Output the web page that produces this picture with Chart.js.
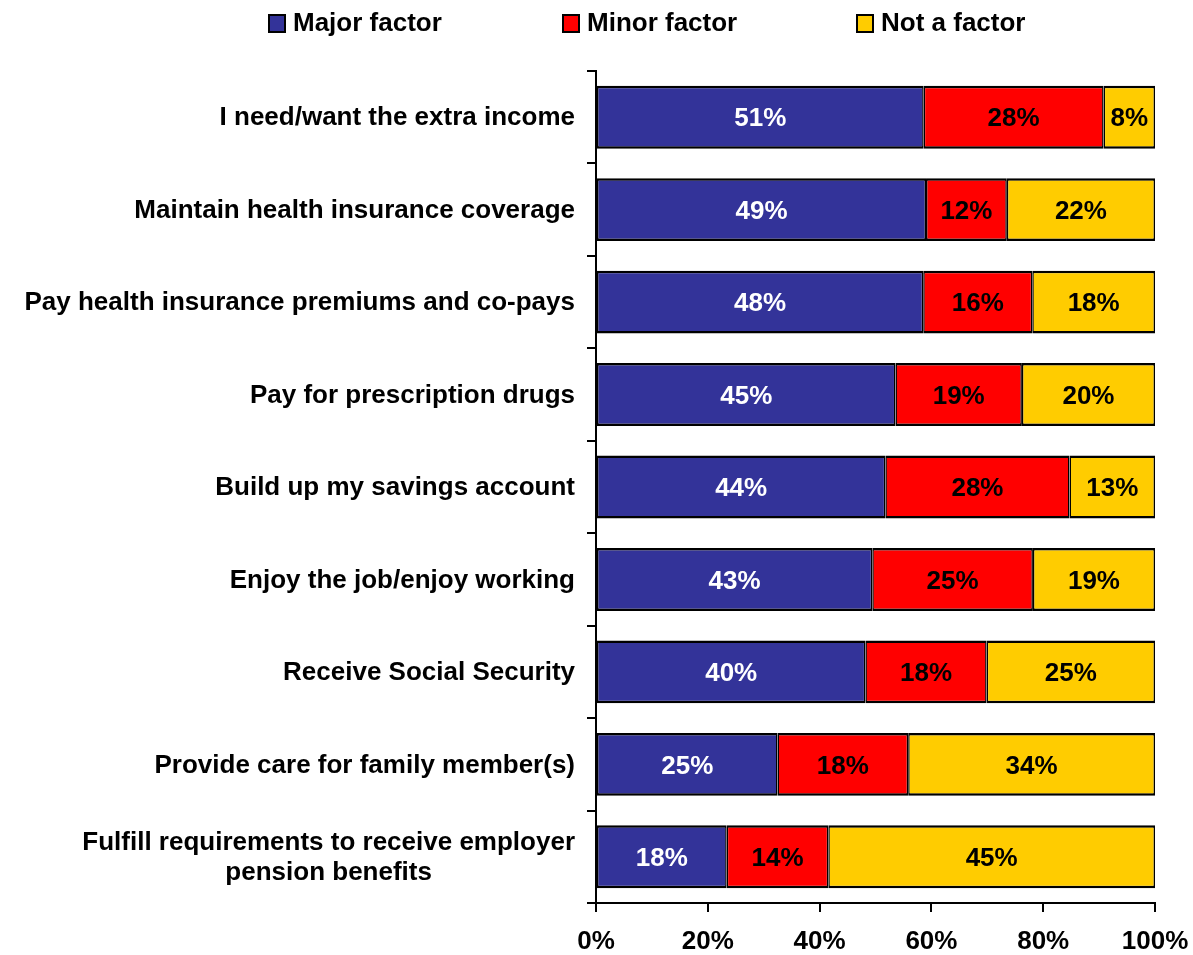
<!DOCTYPE html>
<html>
<head>
<meta charset="utf-8">
<script src="https://cdn.jsdelivr.net/npm/chart.js@4"></script>
<style>
  body { margin: 0; background: #fff; }
  #wrap { width: 1193px; height: 955px; }
</style>
</head>
<body>
<div id="wrap"><canvas id="chart" width="1193" height="955"></canvas></div>
<script>
// =======================
// DATA
// =======================
const categories = [
  ["I need/want the extra income"],
  ["Maintain health insurance coverage"],
  ["Pay health insurance premiums and co-pays"],
  ["Pay for prescription drugs"],
  ["Build up my savings account"],
  ["Enjoy the job/enjoy working"],
  ["Receive Social Security"],
  ["Provide care for family member(s)"],
  ["Fulfill requirements to receive employer", "pension benefits"]
];
const seriesNames = ["Major factor", "Minor factor", "Not a factor"];
const majorFactor = [51, 49, 48, 45, 44, 43, 40, 25, 18];
const minorFactor = [28, 12, 16, 19, 28, 25, 18, 18, 14];
const notAFactor  = [8, 22, 18, 20, 13, 19, 25, 34, 45];
const xTicks = [0, 20, 40, 60, 80, 100];

const colors = ["#333399", "#FF0000", "#FFCC00"];
const labelColors = ["#FFFFFF", "#000000", "#000000"];
const FONT = "'Liberation Sans', Arial, sans-serif";

// bars fill 100% of the row, labels keep the survey numbers
const raw = [majorFactor, minorFactor, notAFactor];
const totals = majorFactor.map((v, i) => v + minorFactor[i] + notAFactor[i]);
const shares = raw.map(s => s.map((v, i) => v / totals[i] * 100));

// =======================
// PLUGINS
// =======================
const barLabels = {
  id: "barLabels",
  afterDatasetsDraw(chart) {
    const ctx = chart.ctx;
    ctx.save();
    ctx.font = "bold 26px " + FONT;
    ctx.textAlign = "center";
    ctx.textBaseline = "middle";
    chart.data.datasets.forEach((ds, d) => {
      chart.getDatasetMeta(d).data.forEach((bar, i) => {
        const {x, y, base} = bar.getProps(["x", "y", "base"], true);
        ctx.fillStyle = labelColors[d];
        ctx.fillText(raw[d][i] + "%", (x + base) / 2, y + 2);
      });
    });
    ctx.restore();
  }
};

const categoryLabels = {
  id: "categoryLabels",
  afterDraw(chart) {
    const ctx = chart.ctx;
    const yScale = chart.scales.y;
    ctx.save();
    ctx.font = "bold 26px " + FONT;
    ctx.fillStyle = "#000";
    ctx.textAlign = "center";
    ctx.textBaseline = "middle";
    categories.forEach((lines, i) => {
      const widest = Math.max(...lines.map(l => ctx.measureText(l).width));
      const cx = 575 - widest / 2;
      const cy = yScale.getPixelForValue(i) + 1;
      const lh = 30;
      lines.forEach((l, k) => {
        ctx.fillText(l, cx, cy + (k - (lines.length - 1) / 2) * lh);
      });
    });
    ctx.restore();
  }
};

const topLegend = {
  id: "topLegend",
  afterDraw(chart) {
    const ctx = chart.ctx;
    ctx.save();
    ctx.font = "bold 26px " + FONT;
    ctx.textBaseline = "middle";
    ctx.textAlign = "left";
    seriesNames.forEach((name, i) => {
      const x = 268 + i * 294;
      ctx.fillStyle = colors[i];
      ctx.fillRect(x + 1, 15, 16, 17);
      ctx.strokeStyle = "#000";
      ctx.lineWidth = 2;
      ctx.strokeRect(x + 1, 15, 16, 17);
      ctx.fillStyle = "#000";
      ctx.fillText(name, x + 25, 24);
    });
    ctx.restore();
  }
};

// =======================
// CHART
// =======================
new Chart(document.getElementById("chart"), {
  type: "bar",
  data: {
    labels: categories,
    datasets: seriesNames.map((name, d) => ({
      label: name,
      data: shares[d],
      backgroundColor: colors[d],
      borderColor: "#000",
      borderWidth: { top: 2.5, bottom: 2.5, left: 1.5, right: 1.5 },
      borderSkipped: false,
      barPercentage: 0.68,
      categoryPercentage: 1
    }))
  },
  options: {
    indexAxis: "y",
    responsive: false,
    animation: false,
    layout: { padding: { top: 71, right: 38, left: 0, bottom: 0 } },
    plugins: {
      legend: { display: false },
      tooltip: { enabled: false }
    },
    scales: {
      x: {
        stacked: true,
        min: 0,
        max: 100,
        afterBuildTicks: s => { s.ticks = xTicks.map(v => ({ value: v })); },
        ticks: {
          callback: v => v + "%",
          color: "#000",
          font: { family: FONT, size: 26, weight: "bold" },
          padding: 14,
          maxRotation: 0
        },
        grid: { drawOnChartArea: false, drawTicks: true, tickLength: 9, color: "#000", lineWidth: 2 },
        border: { display: true, color: "#000", width: 2 },
        afterFit: s => { s.height = 52; s.paddingRight = 0; s.paddingLeft = 0; }
      },
      y: {
        stacked: true,
        ticks: { callback: () => "" },
        grid: { drawOnChartArea: false, drawTicks: true, tickLength: 9, color: "#000", lineWidth: 2, offset: true },
        border: { display: true, color: "#000", width: 2 },
        afterFit: s => { s.width = 596; s.paddingTop = 0; s.paddingBottom = 0; }
      }
    }
  },
  plugins: [barLabels, categoryLabels, topLegend]
});
</script>
</body>
</html>
